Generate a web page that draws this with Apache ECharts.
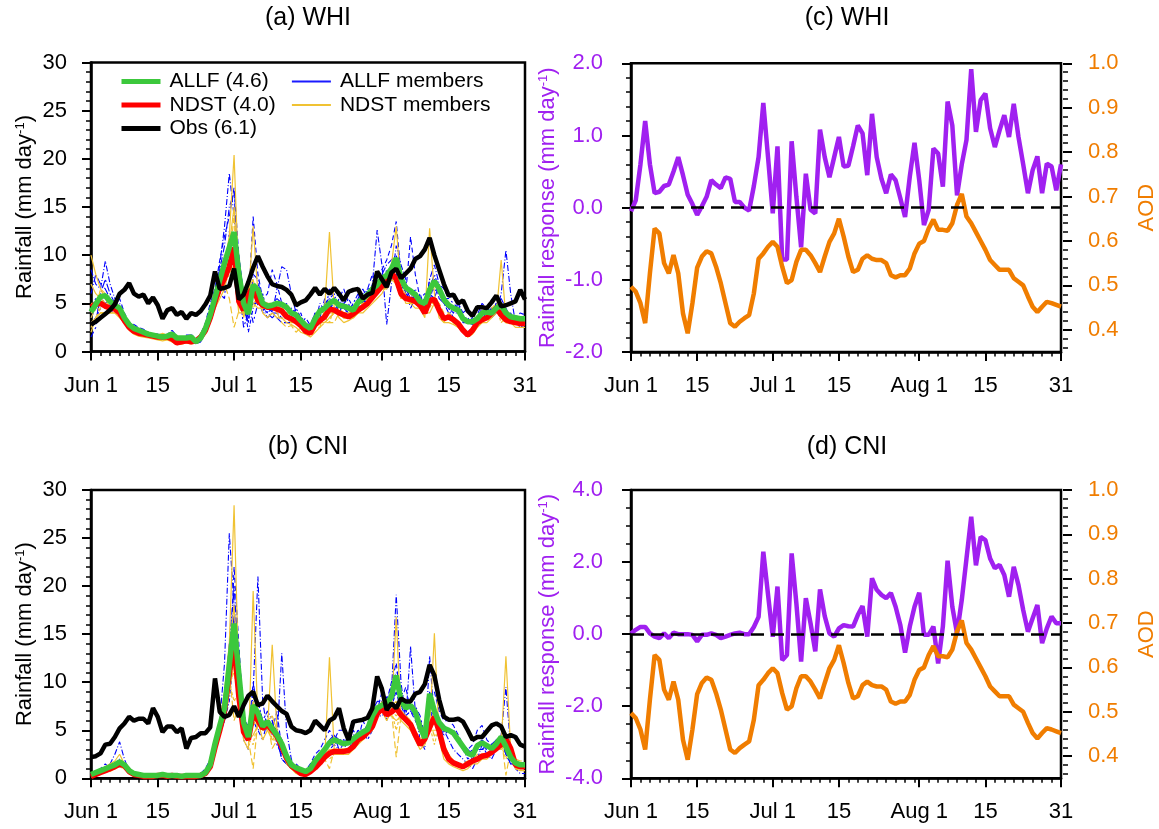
<!DOCTYPE html>
<html>
<head>
<meta charset="utf-8">
<script src="https://cdn.jsdelivr.net/npm/echarts@6/dist/echarts.min.js"></script>
<style>
html, body { margin: 0; padding: 0; background: #fff; }
#chart { width: 1159px; height: 829px; }
</style>
</head>
<body>
<div id="chart"></div>
<script>
const FONT = '"Liberation Sans", Arial, Helvetica, sans-serif';

// ---- time axis: daily, Jun 1 .. Aug 31 ----
const months = [['Jun', 30], ['Jul', 31], ['Aug', 31]];
const tickDays = [0, 14, 30, 44, 61, 75, 91];
const tickLabels = ['Jun 1', '15', 'Jul 1', '15', 'Aug 1', '15', '31'];

// ---- (a) WHI rainfall, mm/day ----
const whiObs = [2.8,3.1,3.5,3.9,4.3,4.9,6.0,6.4,7.1,6.0, 5.7,5.9,5.0,5.6,4.8,3.4,4.3,4.5,3.8,4.1,
  3.4,4.0,3.8,4.2,4.9,5.8,8.3,6.5,6.6,6.8, 8.6,5.4,5.9,7.2,8.7,9.9,8.8,7.8,7.0,6.8,
  6.7,6.4,5.9,4.8,5.1,5.3,5.9,6.6,5.9,6.5, 6.0,6.6,6.0,5.3,6.2,6.4,6.5,5.5,5.9,6.1,
  8.3,7.5,6.7,8.2,8.6,7.6,8.1,8.6,9.6,9.9, 10.6,11.8,10.0,8.5,7.0,5.8,5.9,5.0,5.3,4.2,
  3.7,4.6,4.6,4.5,5.1,5.8,4.7,4.8,5.0,5.2, 6.4,5.4];
const whiAllf = [4.1,4.9,5.7,5.8,5.2,4.8,4.5,3.5,2.8,2.4, 2.2,2.0,1.8,1.7,1.6,1.5,1.6,1.8,1.4,1.4,
  1.4,1.5,1.0,1.4,2.4,3.8,5.6,7.4,9.2,10.8, 12.4,8.1,5.0,3.9,6.9,6.4,5.0,4.7,4.8,5.0,
  4.9,4.6,4.0,3.8,3.2,2.7,2.4,3.4,4.2,4.5, 5.0,5.3,4.8,4.7,4.5,4.3,5.1,5.5,5.9,6.5,
  6.9,7.6,7.9,8.6,9.7,7.6,6.6,6.3,5.9,5.2, 5.0,6.4,7.3,6.5,5.4,4.8,4.5,4.3,3.4,3.1,
  3.1,3.4,4.0,4.1,4.0,4.5,4.8,4.0,3.6,3.5, 3.4,3.4];
const whiNdst = [4.6,4.9,5.0,4.7,4.5,4.4,4.0,3.2,2.5,2.1, 1.9,1.8,1.7,1.6,1.5,1.5,1.5,1.3,0.9,1.0,
  1.1,1.0,1.1,1.5,2.2,3.5,5.2,6.6,7.6,8.8, 10.8,5.2,4.3,6.0,6.6,5.3,4.8,4.6,4.6,4.4,
  4.2,3.6,3.4,3.1,2.7,2.1,1.9,2.8,3.2,3.6, 4.4,4.3,4.0,3.8,3.6,3.9,4.3,4.6,5.0,5.6,
  6.2,6.8,7.2,8.2,7.5,6.0,5.5,5.4,5.2,4.8, 4.0,5.3,5.4,4.3,3.4,3.6,3.3,2.9,2.2,1.7,
  2.2,3.0,3.3,3.5,4.0,4.5,3.8,3.3,3.1,3.0, 2.9,2.9];
const whiAllfMembers = [
  [8.5,7.0,6.5,9.4,7.0,5.5,5.0,3.8,3.0,2.5, 2.4,2.2,2.0,1.8,1.7,1.5,1.8,2.2,1.6,1.5,
   1.2,1.3,0.8,1.0,2.0,3.5,6.0,9.0,13.0,18.5, 14.0,9.0,4.5,3.0,8.0,7.5,4.5,3.5,4.0,6.5,
   8.8,8.5,6.0,4.0,3.0,2.2,2.0,3.0,5.0,4.2, 5.5,6.0,4.5,3.5,3.8,4.0,5.5,6.5,5.5,7.0,
   12.6,9.0,2.8,7.0,11.0,9.0,7.5,5.0,6.0,4.5, 4.0,7.5,9.0,7.0,5.0,4.5,3.5,3.0,2.5,2.0,
   2.5,3.0,3.5,4.0,4.5,4.0,6.0,10.5,6.0,3.0, 2.5,2.8],
  [3.5,4.5,5.5,5.0,4.8,4.5,5.5,4.0,3.0,2.8, 2.5,2.3,2.0,1.8,1.8,1.6,1.4,1.5,1.2,1.3,
   1.5,1.8,1.2,1.8,3.0,5.0,6.5,9.5,12.0,14.0, 17.0,10.0,6.0,5.0,14.0,8.0,5.5,6.0,8.5,7.0,
   5.0,4.5,4.0,3.5,2.8,2.5,2.8,4.0,3.5,5.5, 4.5,4.0,5.5,6.5,5.0,3.5,4.5,5.0,6.5,8.0,
   7.0,8.5,9.5,11.0,13.5,8.0,6.0,11.9,8.0,5.5, 6.0,6.0,5.5,7.0,6.5,5.5,6.0,5.0,3.5,3.0,
   2.8,3.8,5.0,4.5,3.5,5.0,4.5,3.5,3.0,3.5, 4.0,3.8],
  [2.5,3.0,6.0,7.5,6.0,5.0,4.0,3.0,2.5,2.0, 1.8,1.7,1.5,1.6,1.4,1.5,1.7,2.0,1.5,1.4,
   1.6,1.5,0.9,1.3,2.0,3.0,4.5,6.0,7.5,9.0, 11.0,7.0,2.5,4.0,5.0,5.0,6.0,4.0,3.5,4.0,
   4.5,5.0,3.5,4.5,3.5,3.0,2.5,3.5,4.5,3.8, 6.5,5.5,4.0,4.0,4.2,5.0,6.0,5.0,6.0,5.5,
   6.5,6.5,8.5,7.5,8.0,6.5,7.0,6.0,5.0,4.5, 5.5,5.0,7.5,5.5,5.0,4.0,4.0,5.0,4.0,4.5,
   3.5,3.0,4.0,4.5,3.5,4.0,4.5,3.5,4.0,3.0, 3.0,3.2],
  [4.5,5.5,5.0,4.5,4.0,4.2,3.8,3.2,2.8,2.3, 2.0,1.8,1.6,1.5,1.5,1.3,1.5,1.5,1.3,1.2,
   1.0,1.2,1.0,1.1,2.5,3.5,5.5,6.5,8.0,10.0, 12.0,6.5,5.5,2.0,4.5,5.5,4.0,5.0,4.0,4.0,
   3.5,3.0,3.0,3.5,4.0,2.5,2.0,2.5,4.0,4.5, 4.0,5.5,4.0,5.0,5.5,4.5,5.0,5.5,5.0,5.5,
   6.0,6.5,7.0,8.5,8.0,7.0,6.0,5.5,5.0,6.0, 4.5,7.5,7.0,6.0,5.0,4.5,4.0,4.0,3.0,3.0,
   3.5,3.5,3.5,3.5,4.5,4.5,4.0,3.5,3.5,3.5, 3.5,3.5],
  [1.5,2.5,6.0,4.5,4.5,4.5,4.0,3.5,2.8,2.4, 2.2,2.0,1.8,1.8,1.6,1.6,1.8,1.9,1.4,1.5,
   1.7,1.7,1.1,1.8,2.5,4.0,5.5,6.0,5.5,12.5, 8.0,8.0,5.5,5.5,3.0,5.0,4.5,5.0,4.0,3.5,
   3.0,3.0,3.5,3.5,2.8,3.5,2.7,4.0,4.0,4.5, 4.5,5.5,6.0,4.5,4.0,4.5,4.5,5.5,5.0,6.5,
   7.0,7.0,7.5,8.5,9.5,7.5,6.5,4.5,5.5,5.5, 5.0,6.0,7.5,7.0,5.5,5.5,5.0,4.5,3.5,3.0,
   3.0,3.5,4.0,4.0,4.0,5.0,5.0,4.0,3.0,3.5, 3.0,2.8],
  [6.0,8.0,7.0,6.5,5.5,5.0,4.5,3.5,2.5,2.2, 2.0,1.8,1.7,1.5,1.4,1.3,1.4,1.6,1.3,1.2,
   1.1,1.2,0.8,1.2,2.2,3.8,6.5,8.5,11.0,15.0, 16.5,7.0,4.0,3.5,6.0,7.0,4.5,4.5,5.0,5.5,
   5.0,4.5,4.5,4.0,3.5,2.0,2.3,3.5,4.0,5.0, 5.5,5.0,5.0,5.5,4.5,4.0,5.5,6.0,6.5,6.5,
   7.0,8.0,9.0,9.5,10.0,8.0,6.5,5.5,6.5,5.0, 5.5,6.5,8.0,6.5,5.0,4.5,4.5,4.0,3.5,3.5,
   3.0,3.5,4.5,4.5,4.0,5.0,5.5,4.5,3.5,3.5, 3.5,3.5],
  [3.0,3.5,4.5,5.0,5.5,4.8,4.0,3.0,2.6,2.2, 2.1,2.0,1.9,1.8,1.7,1.6,1.6,1.7,1.4,1.4,
   1.3,1.4,1.0,1.3,2.2,3.5,5.0,7.0,8.5,9.5, 10.5,6.5,4.5,3.0,7.0,6.5,4.5,4.0,4.5,4.5,
   4.5,4.0,3.5,3.0,3.0,2.8,2.5,3.0,4.0,4.5, 5.0,5.5,4.5,4.5,4.5,4.5,5.0,5.0,5.5,6.0,
   6.0,7.0,6.5,7.5,8.5,7.0,6.5,6.5,5.5,5.5, 5.0,6.0,6.5,6.0,5.5,4.5,4.5,4.0,3.5,3.0,
   3.0,3.0,4.0,4.0,4.0,4.0,4.5,4.0,3.5,3.5, 3.5,3.5],
  [4.0,4.5,5.5,6.0,5.0,4.5,4.5,3.5,2.8,2.5, 2.2,2.0,1.8,1.7,1.6,1.5,1.6,1.8,1.4,1.4,
   1.3,1.5,1.0,1.4,2.3,3.5,5.0,6.5,8.0,11.0, 10.0,8.0,5.0,4.5,7.0,6.0,5.0,5.0,4.5,5.0,
   4.5,4.5,4.0,3.8,3.0,2.5,2.5,3.5,4.0,4.5, 4.5,5.0,5.0,5.0,4.5,4.5,5.5,5.5,6.0,6.5,
   6.5,7.5,7.5,8.5,9.0,7.5,6.5,6.0,6.0,5.0, 5.0,6.0,7.0,6.5,5.5,5.0,4.5,4.5,3.5,3.0,
   3.0,3.5,4.0,4.0,4.0,4.5,4.5,4.0,3.5,3.5, 3.5,3.5]
];
const whiNdstMembers = [
  [10.0,8.0,6.5,5.5,4.5,4.5,4.0,3.0,2.2,1.8, 1.6,1.5,1.4,1.3,1.2,1.1,1.2,1.0,0.7,0.8,
   0.9,0.8,0.9,1.2,2.0,3.0,5.0,7.0,9.0,12.0, 20.4,7.0,3.5,5.5,13.0,6.0,4.0,3.5,4.0,3.5,
   3.5,3.0,2.8,2.5,2.0,1.8,1.5,2.0,2.5,4.5, 12.4,4.5,3.5,3.0,3.2,3.5,4.0,4.0,4.5,5.0,
   5.5,6.0,7.0,9.0,13.0,6.5,5.0,5.0,4.5,4.5, 3.5,12.8,6.0,3.5,3.0,3.0,2.8,2.5,2.0,1.5,
   1.8,2.5,3.0,3.0,3.5,4.0,9.5,3.5,3.0,2.5, 2.5,2.5],
  [3.5,4.5,6.5,6.0,5.5,5.0,4.5,3.5,2.8,2.4, 2.2,2.0,1.8,1.8,1.7,1.6,1.7,1.5,1.1,1.2,
   1.3,1.2,1.3,1.8,2.8,4.0,5.5,7.5,8.5,9.5, 14.0,5.0,5.0,7.0,5.5,5.0,5.5,5.0,5.0,5.0,
   4.5,4.0,4.0,3.5,3.0,2.5,2.0,3.0,3.5,3.0, 3.5,4.0,4.5,4.0,4.0,4.5,5.0,5.0,5.5,6.0,
   7.0,7.5,8.0,8.5,8.0,6.5,6.0,6.0,5.5,5.0, 4.5,5.0,5.5,5.0,4.0,4.0,3.5,3.0,2.5,2.0,
   2.5,3.5,3.5,4.0,4.5,5.0,3.5,3.0,3.5,3.5, 3.0,3.0],
  [2.5,3.5,4.0,4.0,4.0,4.0,3.5,3.0,2.3,2.0, 1.8,1.6,1.5,1.4,1.3,1.4,1.3,1.2,0.8,0.8,
   0.9,0.9,0.9,1.3,1.8,3.0,4.5,5.5,6.5,9.0, 8.0,4.0,4.0,5.5,5.0,4.5,4.5,5.0,4.5,4.5,
   5.0,3.5,3.0,3.0,3.0,2.0,2.0,2.5,3.0,3.0, 3.5,4.0,4.0,4.0,3.5,4.0,4.0,4.5,5.0,5.5,
   6.0,6.5,6.5,7.5,7.0,5.5,5.5,5.0,5.5,5.0, 4.0,4.0,5.0,4.5,3.5,3.5,3.5,3.0,2.0,1.8,
   2.0,2.5,3.0,3.5,3.5,4.5,3.5,3.5,3.0,3.0, 3.0,3.0],
  [5.0,5.0,4.0,4.0,4.5,4.5,4.0,3.5,2.7,2.2, 2.0,2.0,1.8,1.7,1.6,1.5,1.6,1.3,0.9,1.0,
   1.2,1.0,1.2,1.5,2.5,3.5,5.5,6.5,7.0,8.0, 9.0,5.0,4.0,6.0,4.5,5.5,5.0,4.5,5.0,5.0,
   4.0,4.0,3.5,3.5,3.0,2.2,2.0,3.0,3.5,3.5, 3.0,4.5,4.0,4.0,3.5,3.5,4.5,5.0,5.0,6.0,
   6.5,7.0,7.0,8.0,7.5,6.0,5.5,5.5,5.0,5.0, 4.0,4.5,5.5,4.5,3.5,3.5,3.5,3.0,2.3,1.5,
   2.5,3.0,3.5,3.5,4.5,4.5,3.0,3.5,3.0,3.0, 3.0,3.0],
  [2.0,3.5,4.0,4.0,4.0,4.0,4.0,3.0,2.5,2.1, 1.9,1.9,2.0,1.8,1.7,1.9,1.7,1.5,1.0,1.2,
   1.2,1.1,1.2,1.7,1.9,4.0,5.5,6.5,7.0,5.5, 2.5,4.2,5.0,6.0,5.0,5.5,5.0,5.0,4.5,4.0,
   3.0,2.5,2.7,2.0,2.5,2.0,2.0,2.5,2.5,3.0, 3.0,3.0,4.0,4.0,4.0,4.0,4.0,4.5,5.0,5.5,
   6.0,7.0,7.5,8.0,7.0,5.5,5.5,5.5,5.5,4.5, 4.0,5.0,5.0,4.0,3.0,4.0,3.3,3.0,2.2,1.7,
   2.2,3.5,3.5,3.5,4.0,4.5,3.5,3.0,3.0,3.0, 3.0,3.0],
  [7.0,6.0,5.5,5.0,4.5,4.5,4.0,3.2,2.5,2.0, 1.8,1.7,1.6,1.5,1.4,1.4,1.4,1.2,0.8,0.9,
   1.0,0.9,1.0,1.4,2.2,3.5,5.0,6.5,8.0,11.0, 15.0,6.0,4.0,6.5,7.5,5.0,4.5,4.5,4.5,4.5,
   4.5,3.5,3.5,3.0,2.5,2.0,1.8,2.5,3.0,3.5, 4.5,4.5,4.0,3.5,3.5,3.5,4.0,4.5,5.0,5.5,
   6.0,6.5,7.0,8.0,7.5,6.0,5.5,5.0,5.0,5.0, 4.0,5.5,5.5,4.0,3.5,3.5,3.0,2.8,2.0,1.5,
   2.0,3.0,3.0,3.5,4.0,4.5,4.0,3.0,3.0,3.0, 2.8,2.8],
  [4.0,4.5,5.5,5.0,4.5,4.2,4.0,3.0,2.4,2.0, 1.8,1.7,1.6,1.5,1.4,1.4,1.4,1.2,0.9,1.0,
   1.1,1.0,1.1,1.5,2.0,3.5,5.0,6.0,7.0,8.5, 11.0,4.5,4.0,6.0,6.5,5.0,4.5,4.5,4.5,4.0,
   4.0,3.5,3.5,3.0,2.5,2.0,2.0,3.0,3.0,3.5, 4.0,4.5,4.0,3.5,3.5,4.0,4.5,4.5,5.0,5.5,
   6.0,6.5,7.0,8.0,7.0,6.0,5.5,5.5,5.0,4.5, 4.0,5.0,5.0,4.0,3.5,3.5,3.0,2.5,2.0,1.7,
   2.0,3.0,3.0,3.5,4.0,4.5,3.5,3.0,3.0,3.0, 3.0,2.8],
  [3.0,3.5,4.5,4.5,4.5,4.5,4.0,3.3,2.6,2.2, 2.0,1.9,1.8,1.7,1.6,1.5,1.5,1.3,0.9,1.0,
   1.1,1.0,1.1,1.5,2.3,3.5,5.5,7.0,8.0,10.0, 12.0,5.0,4.5,5.5,6.0,5.5,5.0,4.5,4.5,4.5,
   4.0,3.5,3.0,3.0,2.8,2.2,1.8,2.5,3.0,3.5, 4.0,4.0,4.0,3.5,3.5,4.0,4.5,4.5,5.0,5.5,
   6.0,6.5,7.0,8.0,7.0,6.0,5.5,5.5,5.0,5.0, 4.0,5.0,5.5,4.5,3.5,3.5,3.0,3.0,2.2,1.8,
   2.2,3.0,3.2,3.5,4.0,4.5,3.5,3.0,3.0,3.0, 2.8,2.8]
];

// ---- (b) CNI rainfall, mm/day ----
const cniObs = [2.2,2.3,2.6,3.5,3.6,4.3,5.2,5.7,6.4,6.0, 6.2,6.2,5.7,7.3,6.4,4.8,5.4,5.4,4.8,5.2,
  3.1,4.2,4.3,4.7,4.7,5.3,10.4,6.9,6.4,6.6, 7.5,6.4,7.6,8.6,9.0,7.6,7.8,8.6,8.0,7.5,
  7.0,6.7,5.4,5.0,4.9,4.7,5.0,6.0,5.5,5.0, 6.0,6.3,7.3,5.2,4.0,5.9,6.0,6.1,6.3,7.3,
  10.6,9.3,7.1,7.8,7.3,8.3,8.0,8.0,8.8,9.0, 9.8,11.8,10.7,8.2,6.4,6.1,6.1,6.2,5.9,5.0,
  4.0,4.3,4.3,4.9,5.5,5.7,5.4,4.3,4.5,4.3, 3.5,3.3];
const cniAllf = [0.4,0.6,0.8,1.0,1.2,1.4,1.7,1.4,0.8,0.5, 0.4,0.3,0.3,0.3,0.3,0.4,0.3,0.3,0.3,0.2,
  0.3,0.3,0.3,0.3,0.6,1.4,3.6,5.5,7.3,11.8, 16.1,10.9,5.8,4.3,7.6,6.8,5.4,5.9,5.2,4.5,
  3.6,2.3,1.4,1.1,0.9,0.7,1.0,1.8,2.4,3.0, 3.7,4.0,3.8,3.6,3.7,4.1,4.5,4.8,5.1,6.5,
  7.3,7.6,7.8,8.5,10.7,8.1,7.3,7.6,6.9,5.3, 4.2,8.8,7.0,5.8,5.2,5.0,4.7,4.0,3.3,2.6,
  2.4,3.4,3.7,3.4,3.1,3.6,4.3,3.3,2.2,1.6, 1.4,1.4];
const cniNdst = [0.2,0.4,0.6,0.8,1.0,1.2,1.5,1.3,0.7,0.4, 0.3,0.2,0.2,0.2,0.3,0.3,0.2,0.3,0.2,0.2,
  0.2,0.2,0.2,0.3,0.5,1.2,3.2,5.0,7.0,11.0, 14.0,8.5,4.8,4.0,6.8,6.0,5.2,5.6,5.0,4.4,
  3.3,2.1,1.3,0.9,0.5,0.4,0.7,1.1,1.6,2.2, 2.6,2.8,2.8,2.8,2.9,3.3,4.0,4.3,4.8,5.4,
  6.7,7.3,6.6,6.9,7.3,6.6,6.1,5.6,4.5,3.5, 4.1,5.3,6.4,4.9,3.0,2.0,1.6,1.4,1.2,1.5,
  1.8,2.0,2.3,2.4,2.7,3.1,3.5,4.1,3.1,1.4, 1.2,1.2];
const cniAllfMembers = [
  [0.2,0.5,0.8,1.2,1.5,2.5,3.8,2.0,0.8,0.4, 0.3,0.2,0.2,0.3,0.5,0.3,0.2,0.3,0.2,0.2,
   0.3,0.5,0.3,0.2,0.5,1.0,3.0,6.0,12.0,25.5, 18.0,10.0,4.0,3.0,9.0,21.0,8.0,5.0,6.0,4.0,
   13.0,5.0,2.0,0.8,0.5,0.3,0.5,1.0,2.0,2.5, 3.0,3.5,3.0,2.5,3.0,4.0,5.0,4.5,5.5,8.0,
   10.5,9.0,6.0,9.0,19.1,10.0,6.0,13.7,7.0,4.0, 3.0,12.7,6.0,4.0,5.0,4.0,3.0,2.5,2.0,1.5,
   1.0,2.0,3.5,2.5,2.0,3.0,4.5,9.5,3.0,1.0, 0.5,0.5],
  [0.5,0.8,1.0,1.5,1.0,1.0,1.2,1.0,0.5,0.3, 0.3,0.3,0.2,0.2,0.2,0.5,0.3,0.2,0.3,0.2,
   0.2,0.2,0.3,0.5,1.0,2.0,4.0,5.0,6.0,9.0, 22.0,14.0,6.0,5.5,6.0,5.0,4.0,6.0,5.0,7.0,
   3.0,1.5,1.0,1.5,1.0,0.8,1.5,2.5,3.0,4.0, 5.0,4.0,5.0,5.0,4.0,5.0,4.0,6.0,5.0,6.0,
   7.0,9.0,8.0,10.0,12.0,8.0,9.5,7.0,6.0,5.0, 5.0,8.0,9.0,7.0,6.0,6.0,5.5,4.5,3.5,3.0,
   3.5,5.0,5.5,4.0,3.5,4.0,4.0,2.5,1.5,1.5, 1.5,1.5],
  [0.3,0.5,0.6,0.8,1.0,1.2,1.5,1.5,0.8,0.5, 0.4,0.3,0.3,0.2,0.2,0.3,0.3,0.3,0.2,0.2,
   0.3,0.3,0.2,0.2,0.5,1.5,3.0,5.0,8.0,10.0, 14.0,9.0,7.0,4.0,7.0,8.0,6.0,7.0,6.0,3.5,
   2.5,2.0,1.5,1.0,1.0,0.5,1.0,2.0,2.0,3.0, 3.5,4.5,3.0,3.5,4.5,3.5,4.5,4.0,5.0,5.5,
   6.5,7.0,8.5,8.0,9.0,7.0,6.5,7.0,6.5,6.0, 4.5,7.0,6.0,5.5,4.5,5.0,5.0,4.0,3.0,2.5,
   2.0,3.0,3.0,3.5,3.0,3.0,4.0,2.5,1.5,1.5, 1.5,1.5],
  [0.4,0.6,0.8,0.8,1.0,1.2,1.5,1.2,0.8,0.6, 0.5,0.3,0.3,0.3,0.2,0.5,0.2,0.3,0.3,0.2,
   0.3,0.3,0.4,0.3,0.5,1.0,3.0,4.5,6.0,8.0, 13.0,8.0,5.5,4.5,6.0,5.0,5.5,6.0,4.5,4.0,
   2.0,1.5,1.0,1.0,0.8,0.8,0.5,1.5,2.0,2.5, 3.5,4.0,3.5,3.5,3.0,4.0,4.0,4.5,5.0,6.0,
   6.5,6.5,7.0,7.5,9.0,7.5,6.5,7.0,7.0,6.0, 4.0,7.0,6.5,6.0,5.0,5.0,5.0,4.0,3.0,2.0,
   2.5,3.0,3.0,3.0,3.5,3.5,4.0,3.0,1.5,1.5, 1.5,1.5],
  [0.3,0.5,0.8,1.0,1.5,1.2,1.5,1.5,1.0,0.6, 0.4,0.3,0.3,0.3,0.3,0.3,0.3,0.3,0.2,0.2,
   0.2,0.3,0.3,0.3,0.5,1.5,3.0,5.0,7.5,9.0, 13.0,13.0,7.0,4.5,10.0,7.0,5.5,6.5,5.0,4.0,
   2.0,1.5,1.0,1.2,1.0,1.0,1.0,2.0,2.5,3.0, 3.5,3.5,4.0,4.0,3.5,4.0,5.0,5.0,4.0,5.0,
   6.5,7.5,8.5,8.0,7.5,7.5,7.0,7.5,7.5,6.5, 4.5,8.0,7.0,6.0,5.5,5.0,5.0,4.0,3.0,2.5,
   3.0,3.5,3.5,3.0,3.5,4.0,4.0,3.0,2.0,1.5, 1.5,1.5],
  [0.3,0.6,0.8,1.2,1.4,1.5,2.0,1.6,0.8,0.5, 0.4,0.3,0.3,0.3,0.3,0.4,0.3,0.3,0.3,0.2,
   0.3,0.3,0.3,0.3,0.7,1.5,4.0,6.0,8.0,14.0, 20.0,12.0,6.0,4.0,8.0,7.0,5.5,5.0,5.5,5.0,
   4.0,2.5,1.5,1.0,0.8,0.6,1.0,1.5,2.5,3.0, 4.0,4.5,4.0,4.0,4.0,4.5,4.5,5.0,5.5,7.0,
   8.0,8.0,8.0,9.5,11.0,8.5,8.0,7.5,7.0,5.5, 4.5,9.0,7.5,6.0,5.5,5.0,4.5,4.0,3.5,2.5,
   2.5,3.5,4.0,3.5,3.0,3.5,4.5,3.5,2.5,1.5, 1.5,1.5],
  [0.4,0.5,0.8,1.0,1.2,1.5,1.8,1.4,0.8,0.5, 0.4,0.3,0.3,0.3,0.3,0.4,0.3,0.3,0.3,0.2,
   0.3,0.3,0.3,0.3,0.6,1.2,3.5,5.5,7.0,11.0, 15.0,10.0,5.5,4.5,7.0,6.0,5.0,5.5,5.0,4.5,
   3.5,2.5,1.5,1.2,1.0,0.8,1.0,2.0,2.5,3.0, 3.5,4.0,4.0,3.5,4.0,4.0,4.5,5.0,5.0,6.5,
   7.0,7.5,8.0,8.5,10.0,8.0,7.5,7.5,7.0,5.5, 4.5,8.5,7.0,6.0,5.0,5.0,4.5,4.0,3.5,2.5,
   2.5,3.5,3.5,3.5,3.0,3.5,4.5,3.5,2.5,1.5, 1.5,1.5],
  [0.5,0.7,0.9,1.0,1.2,1.4,1.6,1.5,0.9,0.6, 0.4,0.3,0.3,0.3,0.3,0.4,0.3,0.3,0.3,0.2,
   0.3,0.3,0.3,0.3,0.6,1.3,3.5,5.5,7.5,12.0, 17.0,11.0,6.5,4.5,7.5,6.5,5.0,6.0,5.5,5.0,
   4.0,2.0,1.5,1.0,0.8,0.6,1.0,1.8,2.5,3.0, 3.5,4.0,3.5,3.5,4.0,4.0,4.5,5.0,5.0,6.0,
   7.0,7.5,7.5,8.5,10.5,8.0,7.5,7.5,7.0,5.0, 4.0,8.5,7.0,6.0,5.5,5.0,4.5,4.0,3.5,3.0,
   2.5,3.5,3.5,3.5,3.5,4.0,4.5,3.5,2.5,1.5, 1.5,1.5]
];
const cniNdstMembers = [
  [0.2,0.5,0.8,1.2,1.5,1.8,2.5,1.5,0.6,0.3, 0.2,0.2,0.2,0.2,0.3,0.5,0.3,0.2,0.2,0.2,
   0.2,0.2,0.2,0.3,0.5,1.5,3.5,6.0,9.0,14.0, 28.4,10.0,4.0,3.0,19.5,6.0,4.0,5.0,13.9,5.0,
   3.0,1.5,1.0,0.5,0.3,0.3,0.5,1.0,1.5,2.0, 12.6,3.0,2.5,2.5,2.5,3.0,3.5,4.0,4.5,5.0,
   6.5,7.0,6.0,7.0,16.8,6.0,5.5,5.0,4.0,3.0, 3.5,5.0,15.1,4.0,2.0,1.5,1.2,1.0,0.8,1.0,
   1.5,1.5,2.0,2.0,2.5,3.0,3.5,12.7,3.0,1.0, 0.8,0.8],
  [0.2,0.3,0.5,0.8,1.0,1.2,1.5,1.2,0.8,0.5, 0.3,0.2,0.2,0.2,0.3,0.3,0.2,0.3,0.2,0.2,
   0.2,0.2,0.2,0.3,0.5,1.0,3.0,5.0,7.0,11.0, 16.0,9.0,5.0,5.0,5.5,6.5,5.0,6.0,5.0,4.5,
   3.5,2.5,1.5,1.0,0.5,0.3,0.8,1.2,1.8,2.5, 2.5,3.0,3.0,3.0,3.0,3.5,4.0,4.5,5.0,5.5,
   7.0,8.0,7.0,7.0,6.5,7.0,6.5,6.0,4.5,3.5, 4.0,5.0,6.0,5.0,3.5,2.0,1.8,1.5,1.2,1.5,
   1.8,2.0,2.5,2.5,3.0,3.0,3.0,3.5,3.5,1.5, 1.2,1.2],
  [0.3,0.4,0.6,0.8,1.0,1.0,1.2,1.0,0.6,0.4, 0.3,0.2,0.2,0.2,0.2,0.3,0.2,0.2,0.2,0.2,
   0.2,0.3,0.2,0.3,0.5,1.0,3.0,5.0,6.5,9.0, 12.0,7.0,5.5,4.0,4.5,5.5,6.0,5.0,4.0,4.5,
   3.5,2.0,1.5,1.0,0.5,0.5,0.8,1.0,1.5,2.0, 2.5,2.5,2.5,3.0,3.0,3.0,4.0,4.0,4.5,5.0,
   6.5,7.0,6.5,6.5,6.0,6.5,6.0,5.5,4.5,3.5, 4.0,5.0,5.0,5.0,3.0,2.0,1.5,1.5,1.2,1.5,
   1.8,2.0,2.0,2.5,2.5,3.0,3.5,3.0,3.0,1.5, 1.2,1.2],
  [0.2,0.4,0.5,0.6,0.8,1.0,1.5,1.5,0.8,0.4, 0.3,0.2,0.2,0.2,0.3,0.3,0.2,0.4,0.2,0.2,
   0.2,0.2,0.2,0.3,0.5,1.0,3.0,5.0,6.5,10.0, 8.0,9.0,5.0,4.0,3.5,6.0,5.5,6.0,4.0,4.0,
   3.5,2.5,1.5,1.0,0.7,0.5,0.7,1.2,1.5,2.5, 2.0,2.5,3.0,3.0,3.0,3.0,4.5,4.5,5.0,5.5,
   7.0,7.5,7.0,7.0,5.0,7.0,6.5,6.0,5.0,4.0, 5.0,5.5,3.5,5.5,3.5,2.5,1.8,1.5,1.2,1.2,
   2.0,2.0,2.5,2.5,3.0,3.5,3.5,2.0,3.0,1.0, 1.0,1.0],
  [0.1,0.4,0.6,0.8,0.7,1.0,1.3,1.3,0.7,0.4, 0.4,0.2,0.2,0.2,0.4,0.2,0.2,0.4,0.2,0.2,
   0.2,0.1,0.2,0.3,0.5,1.5,3.5,6.0,6.0,11.0, 6.0,7.5,4.5,4.0,1.0,6.0,5.5,6.0,3.1,4.0,
   3.0,2.0,1.0,1.0,0.5,0.4,0.7,1.1,1.7,2.0, 1.0,3.0,3.0,2.5,3.0,3.0,4.0,4.5,5.0,6.0,
   6.5,7.0,6.5,7.0,2.2,6.5,6.0,5.5,4.5,3.5, 4.0,6.0,4.4,5.0,3.0,2.0,1.7,1.5,1.6,1.8,
   1.9,2.5,2.5,2.5,2.5,3.0,4.5,0.3,3.0,2.0, 1.8,1.8],
  [0.3,0.5,0.7,1.0,1.2,1.5,1.8,1.5,0.8,0.4, 0.3,0.2,0.2,0.2,0.3,0.3,0.2,0.3,0.2,0.2,
   0.2,0.2,0.2,0.3,0.5,1.2,3.5,5.5,8.0,13.0, 18.0,9.0,5.0,4.5,8.0,6.5,5.0,6.0,6.5,5.0,
   3.5,2.5,1.5,1.0,0.5,0.4,0.7,1.2,1.8,2.5, 3.0,3.0,3.0,3.0,3.0,3.5,4.0,4.5,5.0,5.5,
   7.0,7.5,7.0,7.5,8.0,7.0,6.5,6.0,4.5,3.5, 4.5,5.5,7.0,5.5,3.5,2.5,1.8,1.5,1.2,1.5,
   1.8,2.0,2.5,2.5,3.0,3.5,3.5,4.0,3.5,1.5, 1.2,1.2],
  [0.2,0.4,0.6,0.8,1.0,1.2,1.5,1.3,0.7,0.4, 0.3,0.2,0.2,0.2,0.3,0.3,0.2,0.3,0.2,0.2,
   0.2,0.2,0.2,0.3,0.5,1.2,3.0,5.0,7.0,11.0, 13.0,8.5,5.0,4.0,6.5,6.0,5.0,5.5,5.0,4.5,
   3.5,2.0,1.5,1.0,0.5,0.4,0.7,1.1,1.6,2.2, 2.5,2.8,2.8,2.8,3.0,3.3,4.0,4.3,4.8,5.5,
   6.5,7.0,6.5,7.0,7.5,6.5,6.0,5.5,4.5,3.5, 4.0,5.5,6.0,5.0,3.0,2.0,1.6,1.4,1.2,1.5,
   1.8,2.0,2.3,2.5,2.8,3.0,3.5,4.0,3.0,1.5, 1.2,1.2],
  [0.2,0.4,0.6,0.8,1.0,1.3,1.6,1.3,0.7,0.4, 0.3,0.2,0.2,0.2,0.3,0.3,0.2,0.3,0.2,0.2,
   0.2,0.2,0.2,0.3,0.5,1.3,3.5,5.0,7.5,10.0, 11.0,8.0,4.5,4.0,6.0,5.5,5.0,5.5,4.5,4.0,
   3.0,2.0,1.2,0.8,0.5,0.4,0.6,1.0,1.5,2.0, 2.5,2.8,2.5,2.8,2.8,3.2,4.0,4.2,4.5,5.0,
   6.5,7.0,6.5,7.0,7.0,6.5,6.0,5.5,4.5,3.5, 4.0,5.0,6.0,5.0,3.0,2.0,1.6,1.4,1.2,1.5,
   1.8,2.0,2.2,2.4,2.7,3.0,3.5,4.0,3.0,1.5, 1.2,1.2]
];

// ---- (c)/(d) rainfall response (mm/day) and AOD ----
const whiResponse = [-0.05,0.1,0.6,1.2,0.6,0.2,0.22,0.3,0.32,0.5, 0.7,0.45,0.18,0.05,-0.1,0.02,0.15,0.38,0.32,0.27,
  0.42,0.4,0.08,0.08,0.0,-0.04,0.3,0.7,1.45,0.7, -0.08,0.85,-0.72,-0.72,0.92,0.15,-0.55,0.47,-0.03,-0.08,
  1.08,0.7,0.42,0.7,0.98,0.57,0.58,0.85,1.14,1.03, 0.45,1.3,0.7,0.4,0.2,0.46,0.38,0.13,-0.13,0.43,
  0.9,0.38,-0.24,-0.03,0.82,0.75,0.29,1.47,1.14,0.17, 0.6,0.94,1.92,1.05,1.49,1.58,1.1,0.84,1.07,1.28,
  0.98,1.44,0.98,0.6,0.2,0.52,0.71,0.2,0.61,0.57, 0.24,0.6];
const cniResponse = [0.02,0.12,0.2,0.2,0.02,-0.07,-0.11,0.02,-0.11,0.04, 0.0,0.0,0.0,-0.02,-0.2,-0.02,-0.02,0.02,-0.02,-0.11,
  -0.07,-0.02,0.02,0.04,0.0,0.0,0.2,0.48,2.29,1.1, -0.07,1.32,-0.72,-0.58,2.24,0.85,-0.76,1.0,0.3,-0.48,
  1.24,0.5,0.02,-0.07,0.16,0.25,0.22,0.21,0.53,0.78, -0.07,1.55,1.23,1.09,1.0,1.14,0.76,0.25,-0.51,0.21,
  0.76,1.15,-0.02,-0.02,0.21,-0.81,0.21,2.04,0.76,0.02, 0.95,2.1,3.26,1.91,2.7,2.61,2.1,1.83,1.92,1.64,
  1.04,1.87,1.36,0.67,0.07,0.44,0.81,-0.25,0.16,0.49, 0.3,0.3];
const aod = [0.497,0.486,0.460,0.415,0.527,0.628,0.617,0.550,0.527,0.568, 0.527,0.437,0.392,0.460,0.540,0.565,0.577,0.572,0.542,0.505,
  0.460,0.415,0.407,0.418,0.426,0.433,0.482,0.560,0.572,0.587, 0.598,0.587,0.542,0.505,0.512,0.553,0.580,0.580,0.568,0.550,
  0.530,0.565,0.598,0.617,0.650,0.610,0.565,0.530,0.535,0.560, 0.568,0.560,0.557,0.557,0.550,0.523,0.518,0.523,0.523,0.538,
  0.572,0.594,0.600,0.628,0.648,0.625,0.625,0.623,0.640,0.681, 0.706,0.655,0.640,0.620,0.600,0.580,0.557,0.546,0.535,0.535,
  0.535,0.516,0.508,0.500,0.475,0.452,0.440,0.452,0.463,0.460, 0.456,0.452];

// ---- styling ----
const COLORS = {
  allf: '#3cc83c', ndst: '#ff0000', obs: '#000000',
  allfMember: '#0000ff', ndstMember: '#f0c232',
  response: '#a020f0', aod: '#f07d00'
};
const allfDash = [[6, 2, 1, 2], [5, 3], [8, 2, 2, 2], [4, 2, 1, 2], [6, 3, 2, 3], [7, 2, 1, 2], [3, 2], [9, 3, 2, 3]];
const ndstDash = ['solid', [5, 3], 'solid', [3, 2], [7, 3], 'solid', [6, 2, 2, 2], [4, 3]];

const days = [];
months.forEach(([m, n]) => { for (let i = 1; i <= n; i++) days.push(m + ' ' + i); });
const isMajor = (i) => tickDays.indexOf(i) >= 0;
const isOddDayOfMonth = (i) => parseInt(days[i].split(' ')[1], 10) % 2 === 1;

const AOD_MIN = 0.35, AOD_MAX = 1.0;
const TICK_FONT = 22;
const panels = {
  a: { left: 91, top: 62.5, width: 434, height: 289 },
  b: { left: 91, top: 490, width: 434, height: 288.3 },
  c: { left: 631, top: 63.3, width: 432, height: 288.7 },
  d: { left: 631, top: 490, width: 432, height: 288.3 }
};

const grids = [];
const xAxes = [];
const yAxes = [];
const series = [];

function addGrid(box, frame) {
  grids.push(Object.assign({}, box, {
    show: !!frame, borderColor: '#000', borderWidth: frame ? 2.5 : 0,
    backgroundColor: 'transparent', containLabel: false
  }));
  return grids.length - 1;
}

function addTimeAxes(gridIndex) {
  xAxes.push({
    type: 'category', gridIndex, data: days, boundaryGap: false, position: 'bottom',
    axisLine: { show: true, onZero: false, lineStyle: { color: '#000', width: 2.5 } },
    axisTick: { show: true, interval: (i) => isMajor(i), length: 9, lineStyle: { color: '#000', width: 2 } },
    axisLabel: {
      show: true, interval: (i) => isMajor(i), margin: 23,
      formatter: (v, i) => tickLabels[tickDays.indexOf(i)],
      fontSize: TICK_FONT, color: '#000', fontFamily: FONT
    },
    splitLine: { show: false }
  });
  const main = xAxes.length - 1;
  xAxes.push({
    type: 'category', gridIndex, data: days, boundaryGap: false, position: 'bottom',
    axisLine: { show: false, onZero: false },
    axisTick: { show: true, interval: (i) => isOddDayOfMonth(i), length: 4.5, lineStyle: { color: '#000', width: 1.5 } },
    axisLabel: { show: false }, splitLine: { show: false }
  });
  return main;
}

function hiddenX(gridIndex) {
  xAxes.push({ type: 'category', gridIndex, data: days, boundaryGap: false, show: false });
  return xAxes.length - 1;
}

function rainName(text) {
  return '{t|' + text + ' (mm day}{s|-1}{t|)}';
}
function nameRich(color) {
  return {
    fontFamily: FONT, color,
    rich: {
      t: { fontSize: 22, fontFamily: FONT, color },
      s: { fontSize: 13, fontFamily: FONT, color, verticalAlign: 'top' }
    }
  };
}

function valueAxis(opts) {
  return Object.assign({
    type: 'value', position: 'left',
    axisLine: { show: true, onZero: false, lineStyle: { color: '#000', width: 2.5 } },
    axisTick: { show: true, length: 9, lineStyle: { color: '#000', width: 2 } },
    minorTick: { show: true, splitNumber: 5, length: 5, lineStyle: { color: '#000', width: 1.5 } },
    splitLine: { show: false }, minorSplitLine: { show: false },
    axisLabel: { fontSize: TICK_FONT, color: '#000', fontFamily: FONT, margin: 24 },
    nameLocation: 'middle', nameRotate: 90
  }, opts);
}

function lineSeries(name, data, xi, yi, color, width, type, z) {
  return {
    type: 'line', name, data, xAxisIndex: xi, yAxisIndex: yi,
    symbol: 'none', showSymbol: false, silent: true, animation: false,
    lineStyle: { color, width, type: type || 'solid' },
    itemStyle: { color }, emphasis: { disabled: true }, z: z || 2
  };
}

// ---- rainfall panels (a) and (b) ----
function rainPanel(box, obs, allf, ndst, allfMembers, ndstMembers) {
  const g = addGrid(box, true);
  const xi = addTimeAxes(g);
  yAxes.push(valueAxis({
    gridIndex: g, min: 0, max: 30, interval: 5,
    name: rainName('Rainfall'), nameGap: 55, nameTextStyle: nameRich('#000')
  }));
  const yi = yAxes.length - 1;
  allfMembers.forEach((m, k) => series.push(lineSeries('ALLF members', m, xi, yi, COLORS.allfMember, 1.1, allfDash[k], 2)));
  ndstMembers.forEach((m, k) => series.push(lineSeries('NDST members', m, xi, yi, COLORS.ndstMember, 1.2, ndstDash[k], 3)));
  series.push(lineSeries('NDST (4.0)', ndst, xi, yi, COLORS.ndst, 5.5, 'solid', 4));
  series.push(lineSeries('ALLF (4.6)', allf, xi, yi, COLORS.allf, 5.5, 'solid', 5));
  series.push(lineSeries('Obs (6.1)', obs, xi, yi, COLORS.obs, 4.5, 'solid', 6));
}

// ---- response / AOD panels (c) and (d) ----
function responsePanel(box, resp, respMax, respInterval, respSplit) {
  const g = addGrid(box, true);
  const xi = addTimeAxes(g);
  yAxes.push(valueAxis({
    gridIndex: g, min: -respMax, max: respMax, interval: respInterval,
    minorTick: { show: true, splitNumber: respSplit, length: 5, lineStyle: { color: '#000', width: 1.5 } },
    axisLabel: { fontSize: TICK_FONT, color: COLORS.response, fontFamily: FONT, margin: 28, formatter: (v) => v.toFixed(1) },
    name: rainName('Rainfall response'), nameGap: 72, nameTextStyle: nameRich(COLORS.response)
  }));
  const yResp = yAxes.length - 1;
  // AOD scale spanning the full panel height
  yAxes.push({
    type: 'value', gridIndex: g, position: 'right', min: AOD_MIN, max: AOD_MAX,
    axisLine: { show: false, onZero: false }, axisTick: { show: false }, axisLabel: { show: false },
    splitLine: { show: false },
    name: 'AOD', nameLocation: 'middle', nameRotate: 90, nameGap: 75,
    nameTextStyle: { fontSize: 22, color: COLORS.aod, fontFamily: FONT }
  });
  const yAod = yAxes.length - 1;

  // AOD tick marks: labelled ticks every 0.1 from 0.4, minor ticks every 0.02 from 0.36
  const pxPerUnit = box.height / (AOD_MAX - AOD_MIN);
  const majorBox = { left: box.left, width: box.width, top: box.top, height: pxPerUnit * (AOD_MAX - 0.4) };
  const gMaj = addGrid(majorBox, false);
  hiddenX(gMaj);
  yAxes.push({
    type: 'value', gridIndex: gMaj, position: 'right', min: 0.4, max: 1.0, interval: 0.1,
    axisLine: { show: false, onZero: false },
    axisTick: { show: true, length: 9, lineStyle: { color: '#000', width: 2 } },
    axisLabel: { fontSize: TICK_FONT, color: COLORS.aod, fontFamily: FONT, margin: 25, formatter: (v) => v.toFixed(1) },
    splitLine: { show: false }
  });
  const minorBox = { left: box.left, width: box.width, top: box.top, height: pxPerUnit * (AOD_MAX - 0.36) };
  const gMin = addGrid(minorBox, false);
  hiddenX(gMin);
  yAxes.push({
    type: 'value', gridIndex: gMin, position: 'right', min: 0.36, max: 1.0, interval: 0.02,
    axisLine: { show: false, onZero: false },
    axisTick: { show: true, length: 5, lineStyle: { color: '#000', width: 1.5 } },
    axisLabel: { show: false }, splitLine: { show: false }
  });

  const respSeries = lineSeries('Rainfall response', resp, xi, yResp, COLORS.response, 4.5, 'solid', 3);
  respSeries.markLine = {
    silent: true, symbol: ['none', 'none'], animation: false,
    label: { show: false },
    lineStyle: { color: '#000', type: [13, 7], width: 2.7 },
    emphasis: { disabled: true },
    data: [{ yAxis: 0 }]
  };
  series.push(respSeries);
  series.push(lineSeries('AOD', aod, xi, yAod, COLORS.aod, 4.5, 'solid', 4));
}

rainPanel(panels.a, whiObs, whiAllf, whiNdst, whiAllfMembers, whiNdstMembers);
rainPanel(panels.b, cniObs, cniAllf, cniNdst, cniAllfMembers, cniNdstMembers);
responsePanel(panels.c, whiResponse, 2, 1, 5);
responsePanel(panels.d, cniResponse, 4, 2, 4);

const titleStyle = { fontSize: 25, fontWeight: 'normal', color: '#000', fontFamily: FONT };
const legendText = { fontSize: 21, color: '#000', fontFamily: FONT, lineHeight: 21, padding: [0, 0, 0, 4] };
const hiddenSymbol = { opacity: 0, borderWidth: 0 };
function legendItem(name, color, width) {
  return { name, lineStyle: { color, width, type: 'solid', opacity: 1 }, itemStyle: hiddenSymbol };
}
const option = {
  backgroundColor: '#ffffff',
  animation: false,
  textStyle: { fontFamily: FONT },
  title: [
    { text: '(a) WHI', left: panels.a.left + panels.a.width / 2, top: 6, textAlign: 'center', padding: 0, textStyle: titleStyle },
    { text: '(c) WHI', left: panels.c.left + panels.c.width / 2, top: 6, textAlign: 'center', padding: 0, textStyle: titleStyle },
    { text: '(b) CNI', left: panels.b.left + panels.b.width / 2, top: 435, textAlign: 'center', padding: 0, textStyle: titleStyle },
    { text: '(d) CNI', left: panels.d.left + panels.d.width / 2, top: 435, textAlign: 'center', padding: 0, textStyle: titleStyle }
  ],
  legend: [
    {
      data: [
        legendItem('ALLF (4.6)', COLORS.allf, 5),
        legendItem('NDST (4.0)', COLORS.ndst, 5),
        legendItem('Obs (6.1)', COLORS.obs, 5)
      ],
      orient: 'vertical', left: 119, top: 71, padding: 0,
      itemWidth: 39, itemHeight: 12, itemGap: 2.5, selectedMode: false,
      itemStyle: hiddenSymbol,
      textStyle: legendText
    },
    {
      data: [
        legendItem('ALLF members', '#1a1aff', 1.8),
        legendItem('NDST members', COLORS.ndstMember, 1.8)
      ],
      orient: 'vertical', left: 291, top: 71, padding: 0,
      itemWidth: 39, itemHeight: 12, itemGap: 2.5, selectedMode: false,
      itemStyle: hiddenSymbol,
      textStyle: legendText
    }
  ],
  grid: grids,
  xAxis: xAxes,
  yAxis: yAxes,
  series
};

const chart = echarts.init(document.getElementById('chart'), null, { renderer: 'canvas' });
chart.setOption(option);
</script>
</body>
</html>
